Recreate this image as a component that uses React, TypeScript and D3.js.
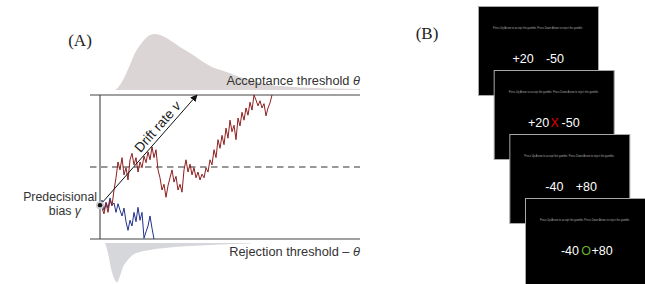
import React from "react";
import * as d3 from "d3";

// evidence for the accepted trial (red) and the rejected trial (blue), one value per time step
const acceptPath = [
  -0.53, -0.57, -0.65, -0.5, -0.63, -0.46, -0.54, -0.32, -0.15, 0.07, -0.04, 0.13, -0.11, -0.01, -0.18,
  0.1, 0.19, 0.03, 0.13, -0.07, 0.07, -0.01, 0.15, 0.06, 0.21, 0.1, 0.28, 0.13, 0.24, -0.04, -0.15, -0.32,
  -0.24, -0.42, -0.26, -0.15, -0.04, -0.21, -0.13, -0.32, -0.24, -0.35, -0.04, 0.1, -0.07, 0.04, -0.11,
  -0.01, -0.15, -0.07, -0.18, -0.1, -0.15, -0.01, -0.07, 0.1, 0.03, 0.24, 0.13, 0.38, 0.26, 0.44, 0.31,
  0.54, 0.4, 0.65, 0.49, 0.58, 0.38, 0.68, 0.57, 0.76, 0.65, 0.82, 0.72, 0.9, 0.79, 1.0, 0.93, 0.85, 0.92,
  0.82, 0.88, 0.71, 0.82, 0.89, 1.0,
];
const rejectPath = [
  -0.53, -0.46, -0.6, -0.49, -0.57, -0.43, -0.53, -0.5, -0.63, -0.51, -0.6, -0.68, -0.57, -0.76, -0.88,
  -0.74, -0.82, -0.63, -0.76, -0.56, -0.74, -0.63, -0.99, -0.9, -0.82, -0.68, -0.85, -1.0,
];

// response time densities above / below the thresholds
const acceptRtTimes = [7.5, 10, 12.5, 15, 17.5, 20, 22.5, 25, 27.5, 30, 35, 40, 45, 50, 55, 60, 65, 70, 75, 80, 85, 90, 100, 115, 130];
const acceptRtDensity = [0, 0.09, 0.25, 0.45, 0.66, 0.8, 0.91, 0.98, 1.0, 0.98, 0.89, 0.77, 0.66, 0.54, 0.43, 0.36, 0.3, 0.23, 0.18, 0.13, 0.09, 0.07, 0.045, 0.027, 0.018];
const rejectRtTimes = [2.5, 4, 5.5, 7, 8.5, 10, 11.5, 13.5, 16.5, 20, 25, 32.5, 45, 60, 75];
const rejectRtDensity = [0, 0.18, 0.45, 0.63, 0.7, 0.59, 0.43, 0.32, 0.21, 0.16, 0.125, 0.09, 0.054, 0.027, 0.01];

const startBias = -0.53;
const driftEnd = [48.5, 1];

// gamble screens
const gambleLeft = ["+20", "+20", "-40", "-40"];
const gambleRight = ["-50", "-50", "+80", "+80"];
const choiceMark = ["", "X", "", "O"];
const choiceColor = ["#fff", "#e00000", "#fff", "#6cb02a"];
const instruction = "Press Up Arrow to accept the gamble. Press Down Arrow to reject the gamble.";

const sans = "'Liberation Sans', Arial, Helvetica, sans-serif";
const serif = "'Liberation Serif', 'Times New Roman', serif";

export default function App() {
  const x = d3.scaleLinear().domain([0, 130]).range([100, 360]);
  const y = d3.scaleLinear().domain([-1, 1]).range([239, 95]);
  const dens = d3.scaleLinear().domain([0, 1]).range([0, 56]);

  const topBase = y(1) - 5;
  const botBase = y(-1) + 4;

  const line = d3
    .line<number>()
    .x((_, i) => x(i))
    .y((d) => y(d));

  const topArea = d3
    .area<number>()
    .x((_, i) => x(acceptRtTimes[i]))
    .y0(topBase)
    .y1((d) => topBase - dens(d))
    .curve(d3.curveMonotoneX);
  const botArea = d3
    .area<number>()
    .x((_, i) => x(rejectRtTimes[i]))
    .y0(botBase)
    .y1((d) => botBase + dens(d))
    .curve(d3.curveMonotoneX);

  const ax0 = x(0);
  const ay0 = y(startBias);
  const ax1 = x(driftEnd[0]);
  const ay1 = y(driftEnd[1]);
  const angle = (Math.atan2(ay1 - ay0, ax1 - ax0) * 180) / Math.PI;
  const lx = ax0 + (ax1 - ax0) * 0.66;
  const ly = ay0 + (ay1 - ay0) * 0.66;

  const sx = d3.scaleLinear().domain([0, 3]).range([478, 525]);
  const sy = d3.scaleLinear().domain([0, 3]).range([6, 198]);
  const sw = 120;
  const sh = 89;

  return (
    <svg
      width={645}
      height={284}
      style={{ position: "absolute", left: 0, top: 0, background: "#fff" }}
      fontFamily={sans}
    >
      <defs>
        <marker id="arr" viewBox="0 0 10 10" refX="9" refY="5" markerWidth="7" markerHeight="7" orient="auto">
          <path d="M0,0 L10,5 L0,10 z" fill="#111" />
        </marker>
      </defs>

      <text x={80} y={46} fontFamily={serif} fontSize={17} textAnchor="middle" fill="#222">
        (A)
      </text>

      <path d={topArea(acceptRtDensity) ?? ""} fill="#dbd5d5" />
      <path d={botArea(rejectRtDensity) ?? ""} fill="#d6d7db" />

      <line x1={x(-5)} x2={x(130)} y1={y(1)} y2={y(1)} stroke="#444" strokeWidth={1.2} />
      <line x1={x(-5)} x2={x(130)} y1={y(-1)} y2={y(-1)} stroke="#444" strokeWidth={1.2} />
      <line x1={x(-5)} x2={x(130)} y1={y(0)} y2={y(0)} stroke="#777" strokeWidth={1.3} strokeDasharray="6.5 4.5" />
      <line x1={x(0)} x2={x(0)} y1={y(1)} y2={y(-1)} stroke="#333" strokeWidth={1} />

      <text x={x(130)} y={y(1) - 10} fontSize={12.8} textAnchor="end" fill="#333">
        Acceptance threshold <tspan fontStyle="italic">θ</tspan>
      </text>
      <text x={x(130)} y={y(-1) + 17} fontSize={12.8} textAnchor="end" fill="#333">
        Rejection threshold – <tspan fontStyle="italic">θ</tspan>
      </text>

      <path d={line(rejectPath) ?? ""} fill="none" stroke="#23318f" strokeWidth={1} strokeLinejoin="round" />
      <path d={line(acceptPath) ?? ""} fill="none" stroke="#8e1f1f" strokeWidth={1} strokeLinejoin="round" />

      <line x1={ax0} y1={ay0} x2={ax1} y2={ay1} stroke="#111" strokeWidth={1} markerEnd="url(#arr)" />
      <text
        transform={`translate(${lx},${ly}) rotate(${angle})`}
        y={-4}
        fontSize={13.5}
        textAnchor="middle"
        fill="#222"
      >
        Drift rate <tspan fontStyle="italic">v</tspan>
      </text>

      <circle cx={ax0} cy={ay0} r={4} fill="#ccc" />
      <circle cx={ax0} cy={ay0} r={2.2} fill="#111" />
      <text x={97} y={201} fontSize={12.3} textAnchor="end" fill="#333">
        Predecisional
      </text>
      <text x={81} y={215} fontSize={12.3} textAnchor="end" fill="#333">
        bias <tspan fontStyle="italic">γ</tspan>
      </text>

      <text x={427} y={39} fontFamily={serif} fontSize={17} textAnchor="middle" fill="#222">
        (B)
      </text>

      {gambleLeft.map((left, i) => {
        const x0 = sx(i);
        const y0 = sy(i);
        return (
          <g key={i} transform={`translate(${x0},${y0})`}>
            <rect x={0.5} y={0.5} width={sw} height={sh} fill="#000" stroke="#a8a8a8" strokeWidth={1} />
            <text x={sw / 2} y={23} fontSize={2.6} textAnchor="middle" fill="#aaa" textLength={90}>
              {instruction}
            </text>
            <text x={45} y={57} fontSize={12.5} textAnchor="middle" fill="#fff">
              {left}
            </text>
            {choiceMark[i] && (
              <text x={61} y={57} fontSize={12.5} textAnchor="middle" fill={choiceColor[i]}>
                {choiceMark[i]}
              </text>
            )}
            <text x={77} y={57} fontSize={12.5} textAnchor="middle" fill="#fff">
              {gambleRight[i]}
            </text>
          </g>
        );
      })}
    </svg>
  );
}
